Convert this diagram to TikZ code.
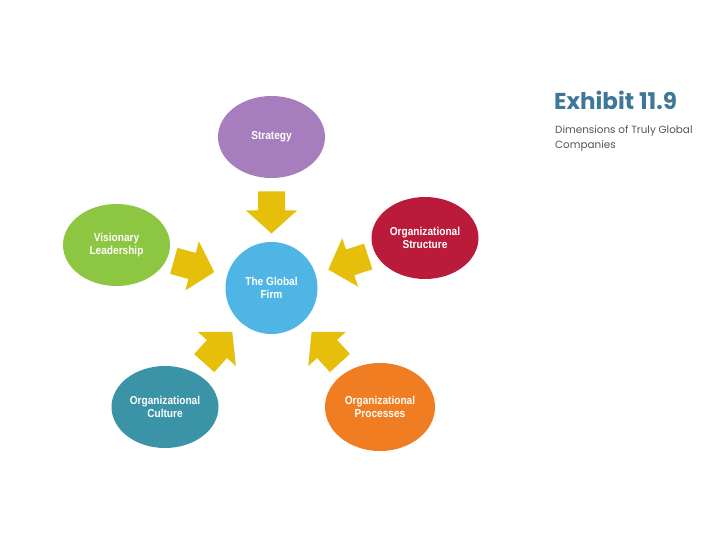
\documentclass[tikz,border=0pt]{standalone}
\usepackage{fontspec}
\setmainfont{Liberation Sans}
\newfontfamily\titlefont{Poppins}
\usetikzlibrary{calc,shapes.geometric}
\definecolor{cstrat}{HTML}{A67EBD}
\definecolor{cvision}{HTML}{8DC641}
\definecolor{cstruct}{HTML}{BB1B3B}
\definecolor{cculture}{HTML}{3A93A6}
\definecolor{cproc}{HTML}{F07D22}
\definecolor{cfirm}{HTML}{4FB5E5}
\definecolor{carrow}{HTML}{E6BF0A}
\definecolor{ctitle}{HTML}{3E7898}
\definecolor{csub}{HTML}{555555}
\tikzset{
  bubble/.style={ellipse, draw=none, fill=#1, minimum width=107pt, minimum height=82pt,
    inner sep=0pt, align=center, text=white, font=\fontsize{11.5}{13}\selectfont\bfseries},
  blockarrow/.pic={\fill[carrow] (-21,-13.5) -- (-2,-13.5) -- (-2,-25.5) -- (21,0) -- (-2,25.5) -- (-2,13.5) -- (-21,13.5) -- cycle;}
}
\newcommand{\lbl}[1]{\scalebox{0.88}[1]{#1}}
\begin{document}
\begin{tikzpicture}[x=1pt,y=-1pt]
\useasboundingbox (0,0) rectangle (720,540);
\fill[white] (0,0) rectangle (720,540);
\node[circle, fill=cfirm, minimum size=92pt, inner sep=0pt, align=center, text=white,
  font=\fontsize{11.5}{13}\selectfont\bfseries] (firm) at (271.5,288) {\lbl{The Global}\\\lbl{Firm}};
\node[bubble=cstrat] (strat) at (271.5,137) {\lbl{Strategy}};
\node[bubble=cvision] (vision) at (116.5,245) {\lbl{Visionary}\\\lbl{Leadership}};
\node[bubble=cstruct] (struct) at (425,238) {\lbl{Organizational}\\\lbl{Structure}};
\node[bubble=cculture] (culture) at (165,407) {\lbl{Organizational}\\\lbl{Culture}};
\node[bubble=cproc, minimum width=110pt, minimum height=88pt] (proc) at (380,407) {\lbl{Organizational}\\\lbl{Processes}};
\foreach \o in {strat,vision,struct,culture,proc}{
  \path let \p1=($(firm.center)-(\o.center)$), \n1={atan2(\y1,\x1)} in
    pic[rotate=\n1] at ($(\o.center)!0.5!(firm.center)$) {blockarrow};
}
\node[anchor=west, inner sep=0pt, text=ctitle, font=\titlefont\fontsize{23}{26}\selectfont\bfseries] (title) at (554,100) {Exhibit 11.9};
\node[anchor=north west, inner sep=0pt, text=csub, align=left, font=\titlefont\fontsize{10.4}{15}\selectfont] (sub) at (555,125) {Dimensions of Truly Global\\Companies};
\end{tikzpicture}
\end{document}
